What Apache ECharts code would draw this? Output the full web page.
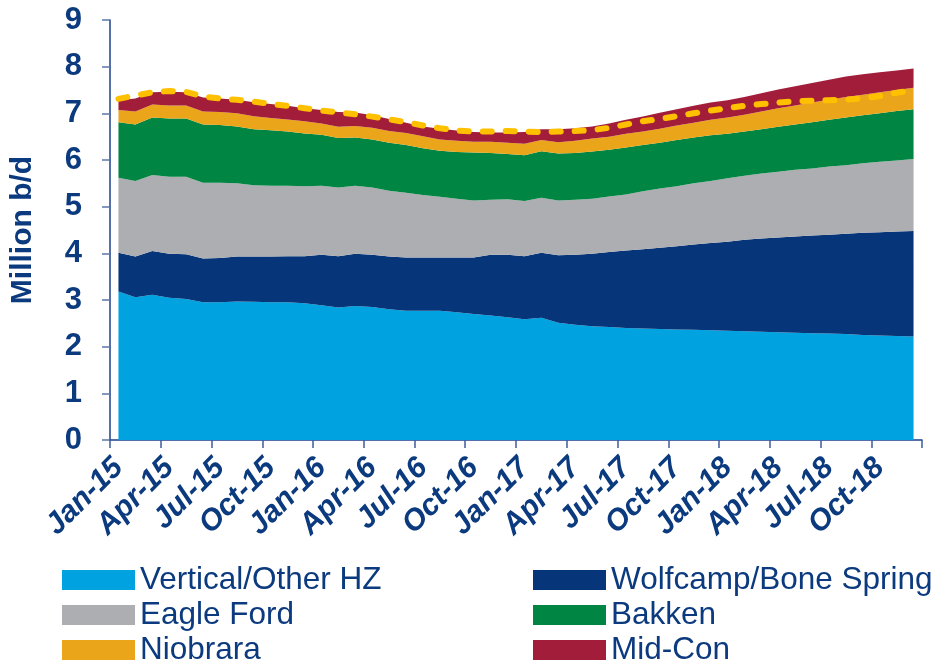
<!DOCTYPE html>
<html>
<head>
<meta charset="utf-8">
<script src="https://cdn.jsdelivr.net/npm/echarts@6/dist/echarts.min.js"></script>
<style>
  html, body { margin: 0; padding: 0; background: #ffffff; }
  #chart { width: 938px; height: 663px; }
</style>
</head>
<body>
<div id="chart"></div>
<script>
// Monthly categories, Jan-15 .. Dec-18
const monthNames = ['Jan','Feb','Mar','Apr','May','Jun','Jul','Aug','Sep','Oct','Nov','Dec'];
const years = ['15','16','17','18'];
const months = [];
years.forEach(function (y) { monthNames.forEach(function (m) { months.push(m + '-' + y); }); });

const seriesNames = ['Vertical/Other HZ', 'Wolfcamp/Bone Spring', 'Eagle Ford', 'Bakken', 'Niobrara', 'Mid-Con'];

// Production by play, million b/d
const verticalOther = [3.18,3.06,3.11,3.05,3.02,2.95,2.95,2.97,2.96,2.95,2.95,2.93,
                       2.89,2.84,2.87,2.85,2.80,2.77,2.77,2.77,2.74,2.70,2.67,2.63,
                       2.59,2.62,2.51,2.47,2.44,2.42,2.40,2.39,2.38,2.37,2.36,2.35,
                       2.34,2.33,2.32,2.31,2.30,2.29,2.28,2.27,2.25,2.24,2.23,2.22];
const wolfcamp = [0.83,0.87,0.94,0.94,0.96,0.94,0.95,0.96,0.97,0.98,0.99,1.01,
                  1.08,1.10,1.12,1.12,1.13,1.14,1.14,1.14,1.17,1.21,1.30,1.34,
                  1.35,1.39,1.45,1.50,1.55,1.61,1.66,1.70,1.74,1.78,1.83,1.87,
                  1.91,1.96,2.00,2.03,2.06,2.09,2.12,2.15,2.19,2.21,2.24,2.26];
const eagleFord = [1.61,1.62,1.63,1.65,1.66,1.62,1.61,1.57,1.53,1.52,1.51,1.50,
                   1.48,1.47,1.46,1.44,1.41,1.39,1.34,1.30,1.26,1.22,1.18,1.19,
                   1.18,1.18,1.17,1.18,1.18,1.19,1.20,1.24,1.27,1.29,1.31,1.33,
                   1.36,1.37,1.39,1.41,1.43,1.44,1.46,1.47,1.49,1.51,1.52,1.54];
const bakken = [1.19,1.21,1.23,1.25,1.25,1.25,1.24,1.22,1.20,1.19,1.16,1.13,
                1.09,1.06,1.03,1.03,1.03,1.02,1.00,0.99,1.00,1.03,1.00,0.97,
                0.98,1.00,1.01,1.00,1.01,1.00,1.01,0.99,0.98,0.99,0.98,0.98,
                0.95,0.95,0.95,0.96,0.97,0.99,1.00,1.02,1.03,1.04,1.06,1.07];
const niobrara = [0.26,0.28,0.28,0.28,0.28,0.28,0.28,0.28,0.28,0.26,0.26,0.26,
                  0.24,0.24,0.25,0.25,0.25,0.26,0.26,0.24,0.24,0.23,0.24,0.24,
                  0.25,0.24,0.24,0.26,0.28,0.28,0.29,0.29,0.30,0.31,0.32,0.33,
                  0.35,0.36,0.38,0.40,0.41,0.42,0.43,0.44,0.44,0.45,0.45,0.46];
const midCon = [0.21,0.28,0.26,0.29,0.28,0.30,0.29,0.29,0.30,0.30,0.29,0.28,
                0.29,0.32,0.29,0.27,0.26,0.22,0.21,0.23,0.22,0.21,0.20,0.22,
                0.25,0.23,0.28,0.27,0.26,0.28,0.30,0.32,0.34,0.35,0.36,0.37,
                0.37,0.38,0.39,0.40,0.41,0.42,0.43,0.44,0.44,0.43,0.42,0.41];
// Total of the earlier outlook (dashed line)
const priorTotal = [7.31,7.38,7.45,7.48,7.46,7.36,7.32,7.29,7.25,7.20,7.16,7.11,
                    7.06,7.02,6.98,6.93,6.87,6.81,6.74,6.68,6.63,6.61,6.61,6.62,
                    6.61,6.60,6.61,6.62,6.64,6.69,6.76,6.83,6.88,6.94,7.00,7.06,
                    7.11,7.16,7.20,7.23,7.26,7.27,7.28,7.29,7.32,7.37,7.44,7.50];

const yTicks = { min: 0, max: 9, step: 1 };

const NAVY_TEXT = '#0b3a7e';
const FONT = "'Liberation Sans', Arial, Helvetica, sans-serif";
const colors = ['#00a3e0', '#06357a', '#adaeb1', '#008542', '#eaa51b', '#a21d39'];
const layers = [verticalOther, wolfcamp, eagleFord, bakken, niobrara, midCon];

const areaSeries = layers.map(function (vals, i) {
  return {
    name: seriesNames[i],
    type: 'line',
    stack: 'production',
    data: vals,
    symbol: 'none',
    smooth: false,
    lineStyle: { width: 0, color: colors[i] },
    itemStyle: { color: colors[i] },
    areaStyle: { color: colors[i], opacity: 1 },
    emphasis: { disabled: true },
    z: 2
  };
});

const dashSeries = {
  name: 'Prior outlook',
  type: 'line',
  data: priorTotal,
  symbol: 'none',
  lineStyle: { color: '#ffc000', width: 6, type: [9, 14], cap: 'round' },
  itemStyle: { color: '#ffc000' },
  emphasis: { disabled: true },
  z: 5
};

// Two-column key: left column x=62, right column x=533, rows 35px apart
const legendCols = [62, 533];
const legendRowTop = [564, 599, 634];
const legends = seriesNames.map(function (name, i) {
  return {
    data: [name],
    left: legendCols[i % 2],
    top: legendRowTop[Math.floor(i / 2)],
    padding: 0,
    icon: 'rect',
    itemWidth: 73,
    itemHeight: 20,
    selectedMode: false,
    textStyle: { color: NAVY_TEXT, fontSize: 31.5, lineHeight: 30, fontFamily: FONT }
  };
});

const option = {
  animation: false,
  backgroundColor: '#ffffff',
  color: colors,
  grid: { left: 109, right: 16, top: 20, bottom: 223, containLabel: false },
  legend: legends,
  xAxis: {
    type: 'category',
    data: months,
    boundaryGap: true,
    axisLine: { show: true, lineStyle: { color: '#1b3f8c', width: 1.5 } },
    axisTick: { show: true, interval: 2, length: 8, lineStyle: { color: '#3d5d9c', width: 1.5 } },
    axisLabel: {
      interval: 2, rotate: 45, margin: 23,
      color: NAVY_TEXT, fontSize: 30, fontWeight: 'bold', fontStyle: 'italic', fontFamily: FONT
    },
    splitLine: { show: false }
  },
  yAxis: {
    type: 'value',
    min: yTicks.min, max: yTicks.max, interval: yTicks.step,
    name: 'Million b/d',
    nameLocation: 'middle',
    nameRotate: 90,
    nameGap: 72,
    nameTextStyle: { color: NAVY_TEXT, fontSize: 30, fontWeight: 'bold', fontFamily: FONT },
    axisLine: { show: true, lineStyle: { color: '#1b3f8c', width: 1.5 } },
    axisTick: { show: true, length: 8, lineStyle: { color: '#5b77ab', width: 1.5 } },
    axisLabel: { margin: 28, color: NAVY_TEXT, fontSize: 31, fontWeight: 'bold', fontFamily: FONT },
    splitLine: { show: false }
  },
  series: areaSeries.concat([dashSeries])
};

const chart = echarts.init(document.getElementById('chart'), null, { renderer: 'canvas' });
chart.setOption(option);
</script>
</body>
</html>
